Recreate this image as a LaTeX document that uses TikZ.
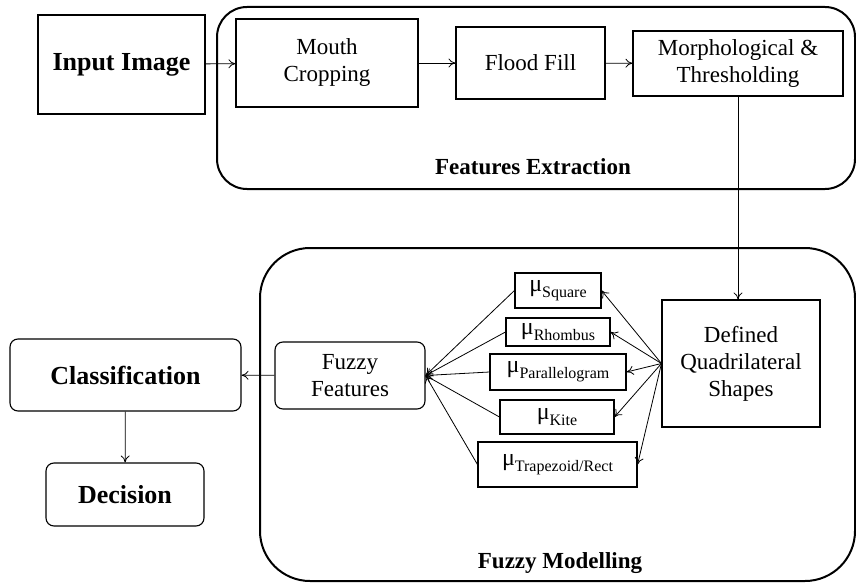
\documentclass[tikz,border=0pt]{standalone}
\usepackage{fontspec}
\setmainfont{Liberation Serif}
\usepackage{tikz}
\usetikzlibrary{arrows.meta}

\newcommand{\memb}[1]{{\fontsize{24}{24}\selectfont μ}\raisebox{-6pt}{\fontsize{16}{16}\selectfont #1}}

\begin{document}
\begin{tikzpicture}[x=1pt,y=-1pt]
    \tikzset{block/.style={rectangle, draw, line width=1.1pt, align=center, inner sep=2pt, font=\fontsize{23}{27}\selectfont},
             rblock/.style={block, rounded corners=8pt},
             bigtxt/.style={font=\fontsize{26}{30}\selectfont\bfseries},
             member/.style={rectangle, draw, line width=1.1pt, inner sep=1pt},
             stage/.style={rectangle, draw, line width=2pt, rounded corners=#1},
             arr/.style={->, line width=0.8pt, >={To[length=7pt,width=9pt]}}};
%%
\useasboundingbox (0,0) rectangle (856,583);
  \node (fe) at (536,98) [stage=30pt, minimum width=638pt, minimum height=182pt] {};
  \node (fm) at (557.5,414.5) [stage=50pt, minimum width=595pt, minimum height=333pt] {};
  \node (felabel) at (533,167) [font=\fontsize{23}{27}\selectfont\bfseries] {Features Extraction};
  \node (fmlabel) at (560,563) [font=\fontsize{23}{27}\selectfont\bfseries] {Fuzzy Modelling};

  \node (input) at (121.5,64.5) [block, bigtxt, minimum width=167pt, minimum height=99pt] {Input Image};
  \node (mouth) at (327,63) [block, minimum width=182pt, minimum height=88pt] {Mouth\\Cropping};
  \node (flood) at (530.5,63) [block, minimum width=149pt, minimum height=72pt] {Flood Fill};
  \node (morph) at (738,63.5) [block, minimum width=210pt, minimum height=65pt] {Morphological \&\\Thresholding};

  \node (dq) at (741,363.5) [block, minimum width=158pt, minimum height=127pt] {Defined\\Quadrilateral\\Shapes};
  \node (sq) at (558,290.5) [member, minimum width=86pt, minimum height=35pt] {\memb{Square}};
  \node (rh) at (558,332) [member, minimum width=104pt, minimum height=28pt] {\memb{Rhombus}};
  \node (pa) at (558,372) [member, minimum width=136pt, minimum height=36pt] {\memb{Parallelogram}};
  \node (ki) at (557,417) [member, minimum width=114pt, minimum height=34pt] {\memb{Kite}};
  \node (tr) at (557.5,464.5) [member, minimum width=159pt, minimum height=45pt] {\memb{Trapezoid/Rect}};
  \node (ff) at (350,375.5) [rblock, minimum width=150pt, minimum height=67pt] {Fuzzy\\Features};

  \node (class) at (125.5,375) [rblock, bigtxt, minimum width=231pt, minimum height=72pt] {Classification};
  \node (dec) at (125,494.5) [rblock, bigtxt, minimum width=158pt, minimum height=63pt] {Decision};

  \draw [arr] (input) -- (mouth);
  \draw [arr] (mouth) -- (flood);
  \draw [arr] (flood) -- (morph);
  \draw [arr] (morph.south) -- (morph.south |- dq.north);
  \draw [arr] (dq.west) -- (sq.east);
  \draw [arr] (dq.west) -- (rh.east);
  \draw [arr] (dq.west) -- (pa.east);
  \draw [arr] (dq.west) -- (ki.east);
  \draw [arr] (dq.west) -- (tr.east);
  \draw [arr] (sq.west) -- (ff.east);
  \draw [arr] (rh.west) -- (ff.east);
  \draw [arr] (pa.west) -- (ff.east);
  \draw [arr] (ki.west) -- (ff.east);
  \draw [arr] (tr.west) -- (ff.east);
  \draw [arr] (ff) -- (class);
  \draw [arr] (class) -- (dec);
  %
\end{tikzpicture}
\end{document}
